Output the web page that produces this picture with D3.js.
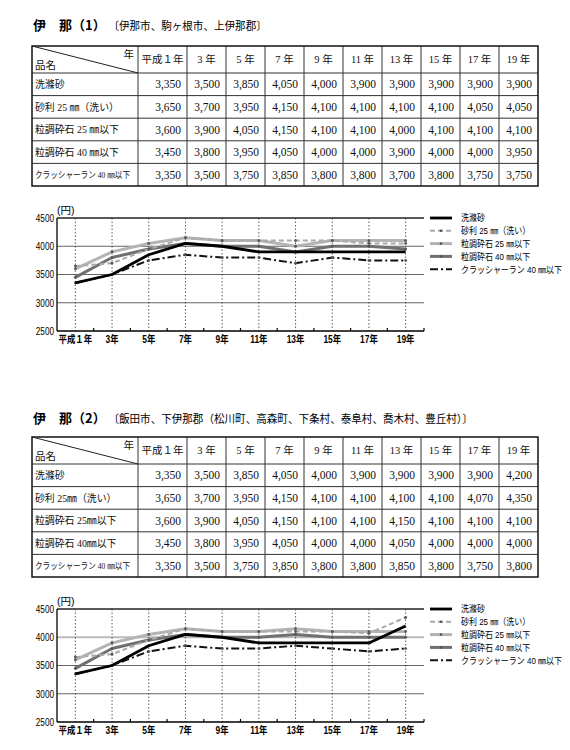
<!DOCTYPE html>
<meta charset="utf-8">
<style>
body { margin: 0; background: #fff; }
.ttl-b { font-family: "Noto Sans CJK JP"; font-weight: bold; font-size: 13px; fill: #000; }
.ttl { font-family: "Liberation Serif", "Noto Sans CJK JP"; font-size: 11px; fill: #000; }
.cell { font-family: "Liberation Serif", "Noto Sans CJK JP"; font-size: 11.5px; fill: #111; }
.name { font-family: "Liberation Serif", "Noto Sans CJK JP"; font-size: 10.5px; fill: #111; }
.name-s { font-family: "Liberation Serif", "Noto Sans CJK JP"; font-size: 9px; fill: #111; }
.ax { font-family: "Liberation Sans", "Noto Sans CJK JP"; font-size: 10.5px; fill: #000; }
.lg { font-family: "Liberation Sans", "Noto Sans CJK JP"; font-size: 9.5px; fill: #000; }
</style>
<svg width="570" height="750"></svg>
<script src="https://d3js.org/d3.v7.min.js"></script>
<script>

var years = ["平成１年", "3 年", "5 年", "7 年", "9 年", "11 年", "13 年", "15 年", "17 年", "19 年"];
var axisYears = ["平成１年", "3年", "5年", "7年", "9年", "11年", "13年", "15年", "17年", "19年"];
var yTicks = [2500, 3000, 3500, 4000, 4500];

var names1 = ["洗滌砂", "砂利 25 ㎜（洗い）", "粒調砕石 25 ㎜以下", "粒調砕石 40 ㎜以下", "クラッシャーラン 40 ㎜以下"];
var names2 = ["洗滌砂", "砂利 25㎜（洗い）", "粒調砕石 25㎜以下", "粒調砕石 40㎜以下", "クラッシャーラン 40 ㎜以下"];
var legendNames = ["洗滌砂", "砂利 25 ㎜（洗い）", "粒調砕石 25 ㎜以下", "粒調砕石 40 ㎜以下", "クラッシャーラン 40 ㎜以下"];

// 伊那(1)
var ina1Sand    = [3350, 3500, 3850, 4050, 4000, 3900, 3900, 3900, 3900, 3900];
var ina1Gravel  = [3650, 3700, 3950, 4150, 4100, 4100, 4100, 4100, 4050, 4050];
var ina1Crush25 = [3600, 3900, 4050, 4150, 4100, 4100, 4000, 4100, 4100, 4100];
var ina1Crush40 = [3450, 3800, 3950, 4050, 4000, 4000, 3900, 4000, 4000, 3950];
var ina1Run40   = [3350, 3500, 3750, 3850, 3800, 3800, 3700, 3800, 3750, 3750];

// 伊那(2)
var ina2Sand    = [3350, 3500, 3850, 4050, 4000, 3900, 3900, 3900, 3900, 4200];
var ina2Gravel  = [3650, 3700, 3950, 4150, 4100, 4100, 4100, 4100, 4070, 4350];
var ina2Crush25 = [3600, 3900, 4050, 4150, 4100, 4100, 4150, 4100, 4100, 4100];
var ina2Crush40 = [3450, 3800, 3950, 4050, 4000, 4000, 4050, 4000, 4000, 4000];
var ina2Run40   = [3350, 3500, 3750, 3850, 3800, 3800, 3850, 3800, 3750, 3800];

var svg = d3.select("svg");
svg.append("rect").attr("width", 570).attr("height", 750).attr("fill", "#fff");

// line styles, in series order
var styles = [
  {stroke: "#000", width: 2.8, dash: null, dot: false},
  {stroke: "#aaa", width: 2, dash: "5,3", dot: true},
  {stroke: "#b4b4b4", width: 3, dash: null, dot: true},
  {stroke: "#707070", width: 3, dash: null, dot: true},
  {stroke: "#111", width: 2, dash: "8,3,2,3", dot: true}
];
var drawOrder = [2, 3, 1, 4, 0];

var fmt = d3.format(",");

// narrow the glyphs the way the condensed print face looks
function squeeze(sel, k) {
  sel.each(function() {
    var w = this.getComputedTextLength();
    d3.select(this).attr("textLength", w * k).attr("lengthAdjust", "spacingAndGlyphs");
  });
}

function drawSection(top, titleY, titleB, titleRest, names, series, opt) {
  var g = svg.append("g").attr("transform", "translate(0," + top + ")");

  // title
  var t = svg.append("text").attr("x", 33).attr("y", titleY + 5);
  t.append("tspan").attr("class", "ttl-b").text(titleB);
  t.append("tspan").attr("class", "ttl").attr("dx", 8).text(titleRest)
    .call(squeeze, 0.96);

  // table
  var left = 32, nameW = 106, firstW = 49, colW = 39;
  var colEdges = [left, left + nameW, left + nameW + firstW];
  for (var i = 1; i < years.length; i++) colEdges.push(colEdges[colEdges.length - 1] + colW);
  var right = colEdges[colEdges.length - 1];
  var headH = 27, rowH = 22.6;
  var rowEdges = [46, 46 + headH];
  for (var r = 0; r < names.length; r++) rowEdges.push(rowEdges[rowEdges.length - 1] + rowH);
  var bottom = rowEdges[rowEdges.length - 1];

  var tb = g.append("g");
  rowEdges.slice(1, -1).forEach(function(y) {
    tb.append("line").attr("x1", left).attr("x2", right).attr("y1", y).attr("y2", y)
      .attr("stroke", "#333").attr("stroke-width", 1);
  });
  colEdges.slice(1, -1).forEach(function(x) {
    tb.append("line").attr("x1", x).attr("x2", x).attr("y1", 46).attr("y2", bottom)
      .attr("stroke", "#333").attr("stroke-width", 1);
  });
  tb.append("rect").attr("x", left).attr("y", 46).attr("width", right - left).attr("height", bottom - 46)
    .attr("fill", "none").attr("stroke", "#111").attr("stroke-width", 1.5);
  tb.append("line").attr("x1", left).attr("y1", 46).attr("x2", left + nameW).attr("y2", 46 + headH)
    .attr("stroke", "#222").attr("stroke-width", 1);
  tb.append("text").attr("class", "name").attr("x", left + nameW - 4).attr("y", 58)
    .attr("text-anchor", "end").text("年");
  tb.append("text").attr("class", "name").attr("x", left + 3).attr("y", 69).text("品名");

  years.forEach(function(yr, j) {
    tb.append("text").attr("class", "name")
      .attr("x", (colEdges[j + 1] + colEdges[j + 2]) / 2).attr("y", 46 + headH / 2)
      .attr("dy", "0.36em").attr("text-anchor", "middle").text(yr);
  });
  names.forEach(function(nm, r) {
    var cy = (rowEdges[r + 1] + rowEdges[r + 2]) / 2;
    var nt = tb.append("text").attr("class", r === 4 ? "name-s" : "name")
      .attr("x", left + 3).attr("y", cy).attr("dy", "0.36em").text(nm);
    if (r === 4) nt.attr("textLength", 95).attr("lengthAdjust", "spacingAndGlyphs");
    else nt.call(squeeze, 0.94);
    series[r].forEach(function(v, j) {
      tb.append("text").attr("class", "cell")
        .attr("x", colEdges[j + 2] - 6).attr("y", cy).attr("dy", "0.36em")
        .attr("text-anchor", "end").text(fmt(v));
    });
  });

  // chart
  var x = d3.scalePoint().domain(axisYears).range([57, 424]).padding(0.5);
  var y = d3.scaleLinear().domain([2500, 4500]).range([331, 218]);
  var ch = g.append("g");

  yTicks.forEach(function(v) {
    if (v === 2500) return;
    var light = opt.lightGrid === v;
    ch.append("line").attr("x1", 57).attr("x2", 424).attr("y1", y(v)).attr("y2", y(v))
      .attr("stroke", v === 4500 ? "#222" : (light ? "#bbb" : "#666"))
      .attr("stroke-width", v === 4500 ? 1.3 : (light ? 2 : 1));
  });
  axisYears.forEach(function(yr) {
    ch.append("line").attr("x1", x(yr)).attr("x2", x(yr)).attr("y1", y(4500)).attr("y2", y(2500))
      .attr("stroke", "#333").attr("stroke-width", 0.8).attr("stroke-dasharray", "1.5,2");
  });

  var xAxis = ch.append("g").attr("transform", "translate(0," + y(2500) + ")");
  xAxis.append("line").attr("x1", 57).attr("x2", 424).attr("stroke", "#000").attr("stroke-width", 1.3);
  var step = x.step();
  d3.range(1, axisYears.length + 1).forEach(function(k) {
    var tx = 57 + k * step;
    xAxis.append("line").attr("x1", tx).attr("x2", tx).attr("y1", 0).attr("y2", -3)
      .attr("stroke", "#000").attr("stroke-width", 1.2);
  });
  axisYears.forEach(function(yr) {
    xAxis.append("text").attr("class", "ax").attr("x", x(yr)).attr("y", 12)
      .attr("text-anchor", "middle").attr("font-weight", "bold").text(yr)
      .call(squeeze, 0.8);
  });

  ch.append("line").attr("x1", 57).attr("x2", 57).attr("y1", y(4500)).attr("y2", y(2500))
    .attr("stroke", "#000").attr("stroke-width", 1.3);
  yTicks.forEach(function(v) {
    ch.append("text").attr("class", "ax").attr("x", 54).attr("y", y(v)).attr("dy", "0.36em")
      .attr("text-anchor", "end").attr("font-size", "10px").text(v)
      .call(squeeze, 0.78);
  });
  ch.append("text").attr("class", "ax").attr("x", 57).attr("y", y(4500) - 4)
    .attr("font-size", "8.5px").text("(円)");

  var line = d3.line().x(function(d, j) { return x(axisYears[j]); }).y(function(d) { return y(d); });
  drawOrder.forEach(function(s) {
    var st = styles[s];
    ch.append("path").datum(series[s]).attr("d", line).attr("fill", "none")
      .attr("stroke", st.stroke).attr("stroke-width", st.width)
      .attr("stroke-dasharray", st.dash).attr("stroke-linejoin", "round");
    if (st.dot) {
      ch.selectAll(null).data(series[s]).enter().append("circle")
        .attr("cx", function(d, j) { return x(axisYears[j]); })
        .attr("cy", function(d) { return y(d); })
        .attr("r", 1.4).attr("fill", "#555");
    }
  });

  // legend
  var lg = ch.append("g").attr("transform", "translate(430,218)");
  legendNames.forEach(function(nm, s) {
    var st = styles[s], ly = s * 12.8;
    lg.append("line").attr("x1", 0).attr("x2", 22).attr("y1", ly).attr("y2", ly)
      .attr("stroke", st.stroke).attr("stroke-width", st.width).attr("stroke-dasharray", st.dash);
    if (st.dot && s !== 4) lg.append("circle").attr("cx", 11).attr("cy", ly).attr("r", 1.3).attr("fill", "#555");
    lg.append("g").attr("transform", "translate(31," + ly + ") scale(0.84,1)")
      .append("text").attr("class", "lg").attr("dy", "0.36em").text(nm);
  });
}

drawSection(0, 25, "伊　那（1）", "〔伊那市、駒ヶ根市、上伊那郡〕", names1,
  [ina1Sand, ina1Gravel, ina1Crush25, ina1Crush40, ina1Run40], {});
drawSection(391, 418, "伊　那（2）", "〔飯田市、下伊那郡（松川町、高森町、下条村、泰阜村、喬木村、豊丘村）〕", names2,
  [ina2Sand, ina2Gravel, ina2Crush25, ina2Crush40, ina2Run40], {lightGrid: 4000});

</script>
